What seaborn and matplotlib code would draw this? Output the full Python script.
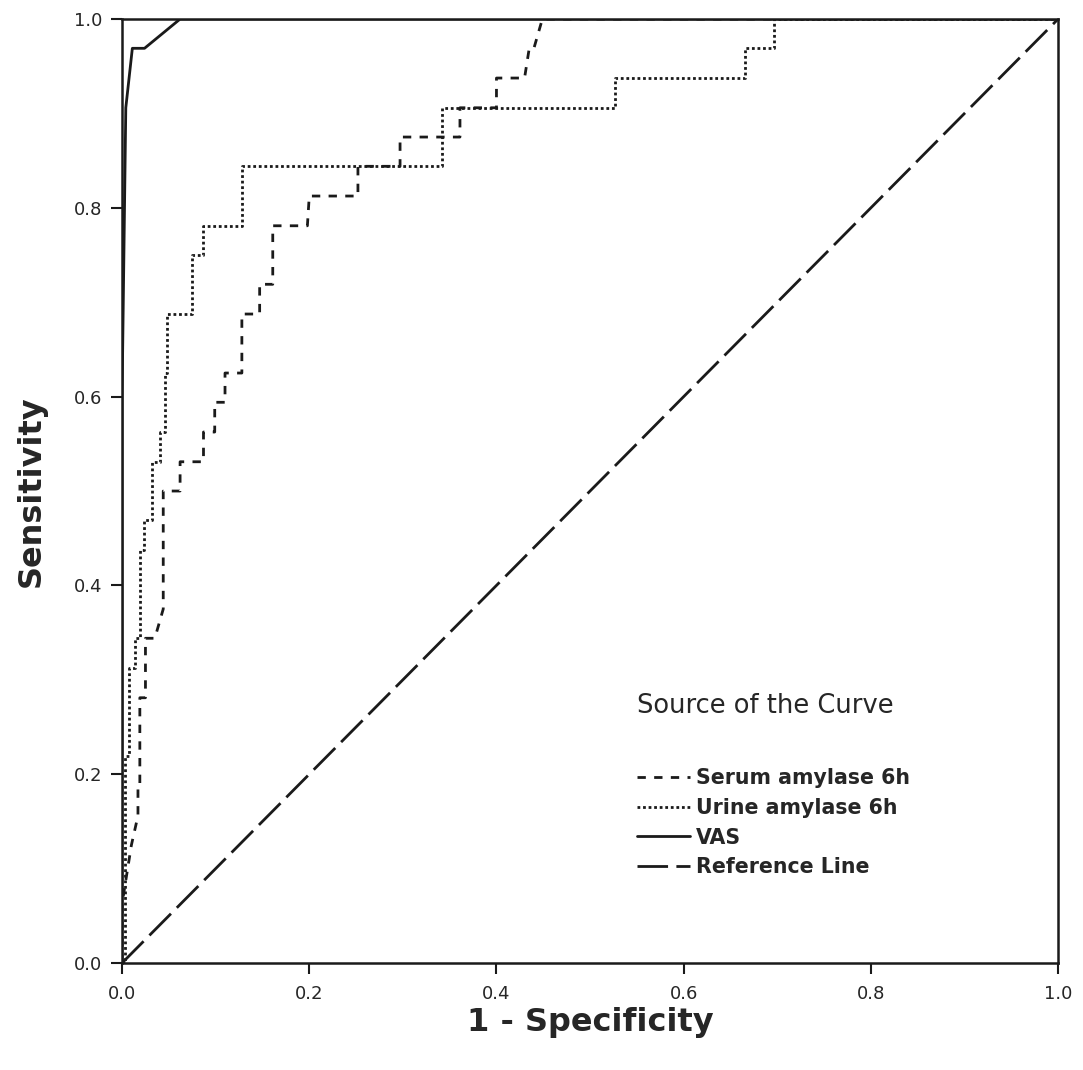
import pandas as pd
import matplotlib
matplotlib.use("Agg")
import matplotlib.pyplot as plt
import seaborn as sns

# ROC curve vertices (1 - specificity, sensitivity)
serum_fpr = [0.0, 0.0, 0.010, 0.017, 0.017, 0.019, 0.019, 0.025, 0.025, 0.035, 0.044,
             0.044, 0.053, 0.062, 0.062, 0.075, 0.087, 0.087, 0.099, 0.099, 0.110,
             0.110, 0.128, 0.128, 0.147, 0.147, 0.161, 0.161, 0.198, 0.200, 0.252,
             0.252, 0.297, 0.297, 0.361, 0.361, 0.400, 0.400, 0.430, 0.435, 0.440,
             0.449, 1.0]
serum_tpr = [0.0, 0.0625, 0.125, 0.156, 0.1875, 0.1875, 0.281, 0.281, 0.344, 0.344, 0.375,
             0.50, 0.50, 0.50, 0.531, 0.531, 0.531, 0.5625, 0.5625, 0.594, 0.594,
             0.625, 0.625, 0.6875, 0.6875, 0.719, 0.719, 0.781, 0.781, 0.8125, 0.8125,
             0.844, 0.844, 0.875, 0.875, 0.906, 0.906, 0.9375, 0.9375, 0.969, 0.969,
             1.0, 1.0]

urine_fpr = [0.0, 0.003, 0.003, 0.007, 0.007, 0.014, 0.014, 0.019, 0.019, 0.023, 0.023,
             0.032, 0.032, 0.041, 0.041, 0.046, 0.046, 0.048, 0.048, 0.075, 0.075,
             0.087, 0.087, 0.128, 0.128, 0.342, 0.342, 0.527, 0.527, 0.666, 0.666,
             0.697, 0.697, 1.0]
urine_tpr = [0.0, 0.0, 0.2188, 0.2188, 0.3125, 0.3125, 0.3438, 0.3438, 0.4375, 0.4375, 0.4688,
             0.4688, 0.5312, 0.5312, 0.5625, 0.5625, 0.625, 0.625, 0.6875, 0.6875, 0.75,
             0.75, 0.7812, 0.7812, 0.8438, 0.8438, 0.9062, 0.9062, 0.9375, 0.9375, 0.9688,
             0.9688, 1.0, 1.0]

vas_fpr = [0.0, 0.0, 0.004, 0.011, 0.024, 0.062, 1.0]
vas_tpr = [0.0, 0.60, 0.906, 0.969, 0.969, 1.0, 1.0]

ref_fpr = [0.0, 1.0]
ref_tpr = [0.0, 1.0]

curve_names = ["Serum amylase 6h", "Urine amylase 6h", "VAS", "Reference Line"]


def build_frame():
    parts = []
    for name, fpr, tpr in zip(curve_names,
                              [serum_fpr, urine_fpr, vas_fpr, ref_fpr],
                              [serum_tpr, urine_tpr, vas_tpr, ref_tpr]):
        parts.append(pd.DataFrame({"fpr": fpr, "tpr": tpr, "curve": name}))
    return pd.concat(parts, ignore_index=True)


def plot_roc():
    sns.set_style("white")
    plt.rcParams["font.family"] = ["DejaVu Sans"]

    df = build_frame()
    fig = plt.figure(figsize=(10.83, 10.70), dpi=100)
    ax = fig.add_axes([0.1127, 0.1, 0.8643, 0.8822])

    styles = {
        "Serum amylase 6h": (3, 3),
        "Urine amylase 6h": (1, 1),
        "VAS": "",
        "Reference Line": (11, 3),
    }
    sns.lineplot(data=df, x="fpr", y="tpr", hue="curve", style="curve",
                 units="curve", estimator=None, sort=False,
                 palette=["#1a1a1a"] * 4, dashes=styles, linewidth=2.0,
                 hue_order=curve_names, style_order=curve_names, ax=ax)

    ax.set_xlim(0, 1)
    ax.set_ylim(0, 1)
    ticks = [0.0, 0.2, 0.4, 0.6, 0.8, 1.0]
    ax.set_xticks(ticks)
    ax.set_yticks(ticks)
    ax.set_xticklabels([f"{t:.1f}" for t in ticks], fontsize=13)
    ax.set_yticklabels([f"{t:.1f}" for t in ticks], fontsize=13)
    ax.tick_params(axis="x", direction="out", length=8, width=1.5, color="#1a1a1a",
                   bottom=True, pad=8)
    ax.tick_params(axis="y", direction="out", length=8, width=1.5, color="#1a1a1a",
                   left=True, pad=6)
    for sp in ax.spines.values():
        sp.set_linewidth(1.8)
        sp.set_color("#1a1a1a")

    ax.set_xlabel("1 - Specificity", fontsize=23, fontweight="bold", labelpad=3)
    ax.set_ylabel("Sensitivity", fontsize=23, fontweight="bold", labelpad=20)

    leg = ax.legend(title="Source of the Curve", loc="lower left",
                    bbox_to_anchor=(0.53, 0.071), frameon=False,
                    prop={"size": 14.8, "weight": "bold"}, title_fontsize=18.5,
                    handlelength=2.6, handletextpad=0.3, labelspacing=0.48)
    leg._legend_box.align = "left"
    leg._legend_box.sep = 35
    for line in leg.get_lines():
        line.set_linewidth(2.0)

    fig.savefig("out.png", dpi=100)


if __name__ == "__main__":
    plot_roc()
